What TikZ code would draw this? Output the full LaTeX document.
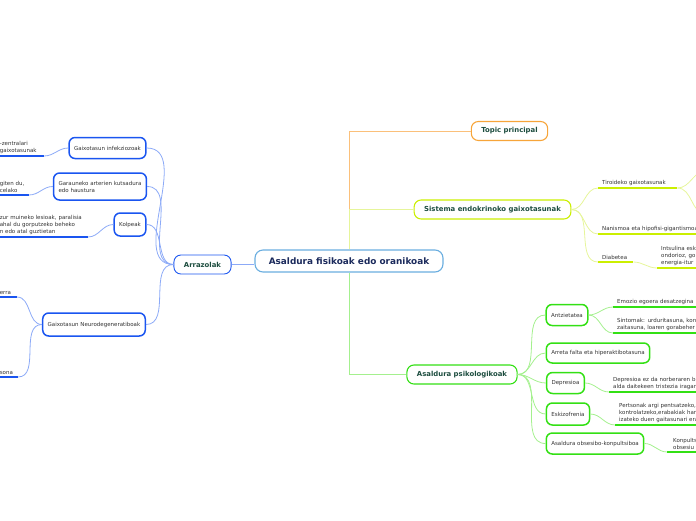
\documentclass[tikz,border=0pt]{standalone}
\usepackage{fontspec}
\setmainfont{DejaVu Sans}
\usepackage{xcolor}

\definecolor{mainblue}{HTML}{6AAEE0}
\definecolor{navy}{HTML}{1B2A5C}
\definecolor{topicgreen}{HTML}{1D4D3F}
\definecolor{txtgray}{HTML}{333333}
\definecolor{orng}{HTML}{F7A53A}
\definecolor{orngline}{HTML}{FBC07A}
\definecolor{ylw}{HTML}{CBEF00}
\definecolor{ylwline}{HTML}{E6F59A}
\definecolor{grn}{HTML}{33E014}
\definecolor{grnline}{HTML}{A4F08E}
\definecolor{blu}{HTML}{1A55F0}
\definecolor{bluline}{HTML}{8CAAF7}

\begin{document}
\begin{tikzpicture}[x=1pt, y=-1pt,
  topicbox/.style={draw, fill=white, rounded corners=7pt, line width=1.1pt, inner xsep=10pt,
    minimum height=19pt, font=\fontsize{6.9}{8}\selectfont\bfseries, text=topicgreen},
  subbox/.style={draw, fill=white, rounded corners=6pt, line width=1.5pt, inner xsep=5pt,
    minimum height=21pt, align=left, font=\fontsize{5.5}{7}\selectfont, text=txtgray},
  leaf/.style={anchor=south west, inner xsep=4pt, inner ysep=2pt, align=left,
    font=\fontsize{5.5}{7}\selectfont, text=txtgray},
  link/.style={line width=0.8pt},
  uline/.style={line width=2pt}
]
  \useasboundingbox (0,0) rectangle (696,520);
  \clip (0,0) rectangle (696,520);

  % Central topic
  \node[draw=mainblue, fill=white, rounded corners=8pt, line width=1.1pt, minimum width=188pt,
    minimum height=22pt, font=\fontsize{8.9}{10}\selectfont\bfseries, text=navy]
    (main) at (349,261) {Asaldura fisikoak edo oranikoak};

  % Main branches
  \node[topicbox, draw=orng] (topic) at (509.5,131) {Topic principal};
  \node[topicbox, draw=ylw] (endo) at (492.5,209.5) {Sistema endokrinoko gaixotasunak};
  \node[topicbox, draw=grn] (psiko) at (462,374.5) {Asaldura psikologikoak};
  \node[topicbox, draw=blu, line width=0.9pt] (arraz) at (202.5,264.5) {Arrazolak};

  \draw[link, orngline] (main.north) |- (topic.west);
  \draw[link, ylwline] (main.north) |- (endo.west);
  \draw[link, grnline] (main.south) |- (psiko.west);
  \draw[link, bluline] (arraz.east) -- (arraz.east -| main.west);

  % Arrazolak
  \node[subbox, draw=blu] (infek) at (107.5,148) {Gaixotasun infekziozoak};
  \node[subbox, draw=blu, minimum height=27pt] (garaun) at (100,186.5) {Garauneko arterien kutsadura\\edo haustura};
  \node[subbox, draw=blu, minimum height=23pt] (kolpe) at (130,224.5) {Kolpeak};
  \node[subbox, draw=blu, minimum height=23pt] (neuro) at (94,324.5) {Gaixotasun Neurodegeneratiboak};
  \foreach \n in {infek,garaun,kolpe,neuro}
    \draw[link, bluline] (arraz.west) to[out=180, in=0] (\n.east);

  \node[leaf, anchor=south east, text width=40pt] (infektxt) at (44,156) {-zentralari\\gaixotasunak};
  \node[leaf, anchor=south east, text width=25pt] (garauntxt) at (29,195) {giten du,\\celako};
  \node[leaf, anchor=south east, text width=84pt] (kolpetxt) at (88,237) {zur muineko lesioak, paralisia\\ahal du gorputzeko beheko\\n edo atal guztietan};
  \node[leaf, anchor=south east, text width=13pt] (neurotxta) at (17,297) {erra};
  \node[leaf, anchor=south east, text width=14pt] (neurotxtb) at (18,377) {sona};
  \foreach \n in {infektxt,garauntxt,kolpetxt,neurotxta,neurotxtb}
    \draw[uline, blu] (\n.south west) -- (\n.south east);
  \draw[link, bluline] (infektxt.south east) to[out=0, in=180] (infek.west);
  \draw[link, bluline] (garauntxt.south east) to[out=0, in=180] (garaun.west);
  \draw[link, bluline] (kolpetxt.south east) to[out=0, in=180] (kolpe.west);
  \draw[link, bluline] (neurotxta.south east) to[out=0, in=180] (neuro.west);
  \draw[link, bluline] (neurotxtb.south east) to[out=0, in=180] (neuro.west);

  % Sistema endokrinoa
  \node[leaf, text width=71pt] (tiro) at (598,188) {Tiroideko gaixotasunak};
  \node[leaf, text width=100pt] (nanis) at (598,234) {Nanismoa eta hipofisi-gigantismoa};
  \node[leaf, text width=27pt] (diab) at (598,262) {Diabetea};
  \node[leaf, text width=60pt] (intsu) at (657,268) {Intsulina esk\\ondorioz, go\\energia-itur};
  \coordinate (tiroup) at (706,171);
  \coordinate (tirodown) at (706,214);
  \foreach \n in {tiro,nanis,diab,intsu}
    \draw[uline, ylw] (\n.south west) -- (\n.south east);
  \foreach \n in {tiro,nanis,diab}
    \draw[link, ylwline] (endo.east) to[out=0, in=180] (\n.south west);
  \draw[link, ylwline] (diab.south east) to[out=0, in=180] (intsu.south west);
  \draw[link, ylwline] (tiro.south east) to[out=0, in=180] (tiroup);
  \draw[link, ylwline] (tiro.south east) to[out=0, in=180] (tirodown);

  % Asaldura psikologikoak
  \node[subbox, draw=grn] (antz) at (567,315) {Antzietatea};
  \node[subbox, draw=grn, minimum height=20pt] (arreta) at (598,353) {Arreta falta eta hiperaktibotasuna};
  \node[subbox, draw=grn] (depre) at (565.5,383) {Depresioa};
  \node[subbox, draw=grn, minimum height=22pt] (eskiz) at (568,414) {Eskizofrenia};
  \node[subbox, draw=grn] (obses) at (595,443.5) {Asaldura obsesibo-konpultsiboa};
  \foreach \n in {antz,arreta,depre,eskiz,obses}
    \draw[link, grnline] (psiko.east) to[out=0, in=180] (\n.west);

  \node[leaf, text width=100pt] (emoz) at (613,307) {Emozio egoera desatzegina};
  \node[leaf, text width=100pt] (sinto) at (613,333) {Sintomak: urduritasuna, kon\\zaitasuna, loaren gorabeher};
  \node[leaf, text width=100pt] (depretxt) at (609,392) {Depresioa ez da norberaren b\\alda daitekeen tristezia iragan};
  \node[leaf, text width=100pt] (eskiztxt) at (615,425) {Pertsonak argi pentsatzeko,\\kontrolatzeko,erabakiak har\\izateko duen gaitasunari era};
  \node[leaf, inner xsep=6pt, text width=100pt] (obsestxt) at (667,452) {Konpults\\obsesiu};
  \foreach \n in {emoz,sinto,depretxt,eskiztxt,obsestxt}
    \draw[uline, grn] (\n.south west) -- (\n.south east);
  \draw[link, grnline] (antz.east) to[out=0, in=180] (emoz.south west);
  \draw[link, grnline] (antz.east) to[out=0, in=180] (sinto.south west);
  \draw[link, grnline] (depre.east) to[out=0, in=180] (depretxt.south west);
  \draw[link, grnline] (eskiz.east) to[out=0, in=180] (eskiztxt.south west);
  \draw[link, grnline] (obses.east) to[out=0, in=180] (obsestxt.south west);
\end{tikzpicture}
\end{document}
